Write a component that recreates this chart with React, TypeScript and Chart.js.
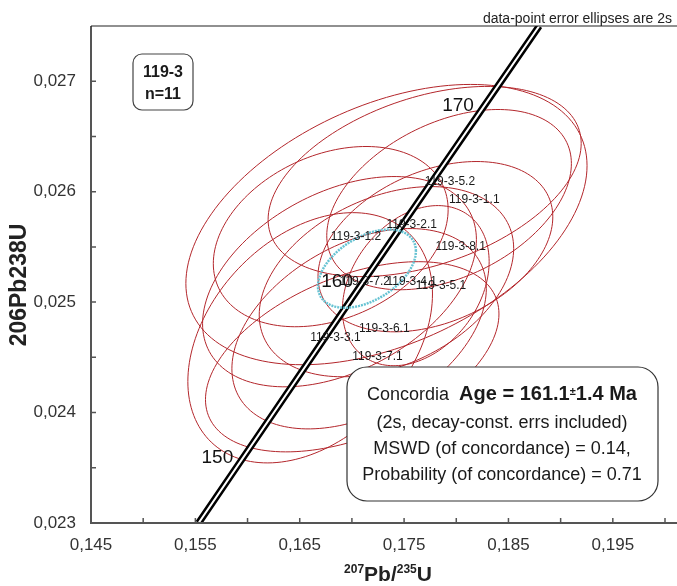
import React, { useEffect, useRef } from 'react';
import { Chart, registerables } from 'chart.js';

Chart.register(...registerables);

// ---- data ----
const xMin = 0.145;
const xMax = 0.2;
const yMin = 0.023;
const yMax = 0.0275;

const ellipseLabels = ['119-3-2.1', '119-3-5.2', '119-3-1.1', '119-3-1.2', '119-3-8.1', '119-3-7.2', '119-3-4.1', '119-3-5.1', '119-3-3.1', '119-3-6.1', '119-3-7.1'];
const ellipseX = [0.17331, 0.17697, 0.17931, 0.16797, 0.178, 0.16881, 0.17331, 0.17612, 0.166, 0.17069, 0.17003];
const ellipseY = [0.025702, 0.026092, 0.025928, 0.025593, 0.025502, 0.025185, 0.025185, 0.025149, 0.024677, 0.024759, 0.024505];
const ellipseSX = [0.01922, 0.015, 0.01172, 0.01125, 0.01125, 0.01312, 0.01219, 0.00703, 0.01172, 0.01219, 0.01406];
const ellipseSY = [0.001269, 0.000861, 0.000816, 0.000816, 0.000771, 0.000952, 0.000861, 0.000725, 0.001133, 0.000907, 0.000861];
const ellipseRho = [0.42, 0.4, 0.4, 0.3, 0.35, 0.4, 0.35, 0.3, 0.35, 0.4, 0.45];

const meanX = [0.17144];
const meanY = [0.025303];
const meanSX = [0.00469];
const meanSY = [0.000354];
const meanRho = [0.45];

const concordiaX = [0.15531, 0.1592, 0.17068, 0.18226, 0.18795];
const concordiaY = [0.023, 0.02354, 0.02513, 0.02672, 0.0275];

const ageLabels = ['150', '160', '170'];
const ageX = [0.1592, 0.17068, 0.18226];
const ageY = [0.02354, 0.02513, 0.02672];

const FONT = '"Liberation Sans", Arial, sans-serif';

function ellipsePath(ctx: CanvasRenderingContext2D, xs: any, ys: any, cx: number, cy: number, sx: number, sy: number, rho: number) {
  const n = 160;
  const k = Math.sqrt(1 - rho * rho);
  ctx.beginPath();
  for (let i = 0; i <= n; i++) {
    const t = (i / n) * Math.PI * 2;
    const vx = cx + sx * Math.cos(t);
    const vy = cy + sy * (rho * Math.cos(t) + k * Math.sin(t));
    const px = xs.getPixelForValue(vx);
    const py = ys.getPixelForValue(vy);
    if (i === 0) ctx.moveTo(px, py);
    else ctx.lineTo(px, py);
  }
  ctx.closePath();
}

const drawPlugin = {
  id: 'isoplot',
  beforeDatasetsDraw(chart: any) {
    const { ctx, chartArea, scales } = chart;
    ctx.save();
    ctx.beginPath();
    ctx.rect(chartArea.left, chartArea.top, chartArea.right - chartArea.left, chartArea.bottom - chartArea.top);
    ctx.clip();
    ctx.strokeStyle = '#b3262b';
    ctx.lineWidth = 1;
    for (let i = 0; i < ellipseX.length; i++) {
      ellipsePath(ctx, scales.x, scales.y, ellipseX[i], ellipseY[i], ellipseSX[i], ellipseSY[i], ellipseRho[i]);
      ctx.stroke();
    }
    ctx.restore();
  },
  afterDatasetsDraw(chart: any) {
    const { ctx, chartArea, scales } = chart;
    const xs = scales.x;
    const ys = scales.y;
    ctx.save();
    // mean ellipse
    ctx.strokeStyle = '#67c3d3';
    ctx.lineWidth = 2.5;
    ctx.setLineDash([2, 1]);
    for (let i = 0; i < meanX.length; i++) {
      ellipsePath(ctx, xs, ys, meanX[i], meanY[i], meanSX[i], meanSY[i], meanRho[i]);
      ctx.stroke();
    }
    ctx.setLineDash([]);

    // ellipse labels
    ctx.fillStyle = '#1a1a1a';
    ctx.font = `12px ${FONT}`;
    ctx.textAlign = 'left';
    ctx.textBaseline = 'middle';
    for (let i = 0; i < ellipseX.length; i++) {
      ctx.fillText(ellipseLabels[i], xs.getPixelForValue(ellipseX[i]), ys.getPixelForValue(ellipseY[i]));
    }

    // age labels
    ctx.font = `19px ${FONT}`;
    ctx.textAlign = 'right';
    ctx.textBaseline = 'middle';
    ctx.fillStyle = '#111';
    for (let i = 0; i < ageLabels.length; i++) {
      ctx.fillText(ageLabels[i], xs.getPixelForValue(ageX[i]) - 6, ys.getPixelForValue(ageY[i]) - 6);
    }

    // axes
    const L = chartArea.left, R = chart.width, T = chartArea.top, B = chartArea.bottom;
    ctx.strokeStyle = '#555';
    ctx.lineWidth = 2;
    ctx.beginPath();
    ctx.moveTo(L, T);
    ctx.lineTo(L, B);
    ctx.lineTo(R, B);
    ctx.stroke();
    ctx.strokeStyle = '#222';
    ctx.lineWidth = 1.2;
    ctx.beginPath();
    ctx.moveTo(L, T);
    ctx.lineTo(R, T);
    ctx.stroke();
    // inner ticks
    ctx.strokeStyle = '#555';
    ctx.lineWidth = 1.5;
    ctx.beginPath();
    xs.ticks.forEach((t: any) => {
      const p = xs.getPixelForValue(t.value);
      if (p <= L + 1 || p >= R - 1) return;
      ctx.moveTo(p, B);
      ctx.lineTo(p, B - 5);
    });
    ys.ticks.forEach((t: any) => {
      const p = ys.getPixelForValue(t.value);
      if (p >= B - 1 || p <= T + 1) return;
      ctx.moveTo(L, p);
      ctx.lineTo(L + 5, p);
    });
    ctx.stroke();

    // header note
    ctx.fillStyle = '#222';
    ctx.font = `14px ${FONT}`;
    ctx.textAlign = 'right';
    ctx.textBaseline = 'alphabetic';
    ctx.fillText('data-point error ellipses are 2s', 672, 23);

    // sample box
    ctx.fillStyle = '#fff';
    ctx.strokeStyle = '#444';
    ctx.lineWidth = 1.2;
    ctx.beginPath();
    (ctx as any).roundRect(133, 54, 60, 56, 9);
    ctx.fill();
    ctx.stroke();
    ctx.fillStyle = '#1a1a1a';
    ctx.font = `bold 16px ${FONT}`;
    ctx.textAlign = 'center';
    ctx.textBaseline = 'middle';
    ctx.fillText('119-3', 163, 73);
    ctx.fillText('n=11', 163, 95);

    // result box
    ctx.fillStyle = '#fff';
    ctx.strokeStyle = '#333';
    ctx.lineWidth = 1.2;
    ctx.beginPath();
    (ctx as any).roundRect(347, 367, 311, 134, 20);
    ctx.fill();
    ctx.stroke();

    const cxBox = 502;
    const parts = [
      { t: 'Concordia  ', f: `18px ${FONT}`, dy: 0 },
      { t: 'Age = 161.1', f: `bold 20px ${FONT}`, dy: 0 },
      { t: '±', f: `bold 11px ${FONT}`, dy: -5 },
      { t: '1.4 Ma', f: `bold 20px ${FONT}`, dy: 0 },
    ];
    let total = 0;
    parts.forEach(p => { ctx.font = p.f; total += ctx.measureText(p.t).width; });
    let xx = cxBox - total / 2;
    ctx.textAlign = 'left';
    ctx.textBaseline = 'alphabetic';
    ctx.fillStyle = '#1a1a1a';
    parts.forEach(p => {
      ctx.font = p.f;
      ctx.fillText(p.t, xx, 400 + p.dy);
      xx += ctx.measureText(p.t).width;
    });
    ctx.font = `18px ${FONT}`;
    ctx.textAlign = 'center';
    ctx.fillText('(2s, decay-const. errs included)', cxBox, 428);
    ctx.fillText('MSWD (of concordance) = 0.14,', cxBox, 454);
    ctx.fillText('Probability (of concordance) = 0.71', cxBox, 480);

    // y axis title
    ctx.save();
    ctx.translate(26, 285);
    ctx.rotate(-Math.PI / 2);
    ctx.font = `bold 23px ${FONT}`;
    ctx.textAlign = 'center';
    ctx.textBaseline = 'alphabetic';
    ctx.fillStyle = '#222';
    ctx.fillText('206Pb238U', 0, 0);
    ctx.restore();

    // x axis title with superscripts
    const tparts = [
      { t: '207', f: `bold 12px ${FONT}`, dy: -8 },
      { t: 'Pb/', f: `bold 21px ${FONT}`, dy: 0 },
      { t: '235', f: `bold 12px ${FONT}`, dy: -8 },
      { t: 'U', f: `bold 21px ${FONT}`, dy: 0 },
    ];
    let tw = 0;
    tparts.forEach(p => { ctx.font = p.f; tw += ctx.measureText(p.t).width; });
    let tx = 388 - tw / 2;
    ctx.textAlign = 'left';
    ctx.fillStyle = '#222';
    tparts.forEach(p => {
      ctx.font = p.f;
      ctx.fillText(p.t, tx, 581 + p.dy);
      tx += ctx.measureText(p.t).width;
    });

    ctx.restore();
  },
};

export default function App() {
  const ref = useRef<HTMLCanvasElement | null>(null);
  useEffect(() => {
    if (!ref.current) return;
    const chart = new Chart(ref.current, {
      type: 'scatter',
      data: {
        datasets: [
          {
            data: concordiaX.map((x, i) => ({ x, y: concordiaY[i] })),
            showLine: true,
            borderColor: '#fff',
            borderWidth: 2,
            pointRadius: 0,
            order: 0,
          },
          {
            data: concordiaX.map((x, i) => ({ x, y: concordiaY[i] })),
            showLine: true,
            borderColor: '#000',
            borderWidth: 7,
            pointRadius: 0,
            order: 1,
          },
        ],
      },
      options: {
        responsive: false,
        animation: false,
        layout: { padding: { top: 26, right: 0, left: 0, bottom: 0 } },
        plugins: { legend: { display: false }, tooltip: { enabled: false } },
        scales: {
          x: {
            type: 'linear',
            min: xMin,
            max: xMax,
            grid: { display: false, drawTicks: false },
            border: { display: false },
            ticks: {
              stepSize: 0.005,
              autoSkip: false,
              maxRotation: 0,
              padding: 12,
              color: '#333',
              font: { family: 'Liberation Sans', size: 17 },
              callback: (v: any) => {
                const n = Math.round(Number(v) * 1000);
                return n % 10 === 5 ? (n / 1000).toFixed(3).replace('.', ',') : '';
              },
            },
            afterFit: (s: any) => { s.height = 63; },
          },
          y: {
            type: 'linear',
            min: yMin,
            max: yMax,
            grid: { display: false, drawTicks: false },
            border: { display: false },
            ticks: {
              stepSize: 0.0005,
              autoSkip: false,
              padding: 15,
              color: '#333',
              font: { family: 'Liberation Sans', size: 17 },
              callback: (v: any) => {
                const n = Math.round(Number(v) * 10000);
                return n % 10 === 0 ? (n / 10000).toFixed(3).replace('.', ',') : '';
              },
            },
            afterFit: (s: any) => { s.width = 91; },
          },
        },
      },
      plugins: [drawPlugin],
    } as any);
    return () => chart.destroy();
  }, []);
  return (
    <div style={{ position: 'fixed', left: 0, top: 0, width: 677, height: 586, background: '#fff' }}>
      <canvas ref={ref} width={677} height={586} style={{ display: 'block' }} />
    </div>
  );
}
